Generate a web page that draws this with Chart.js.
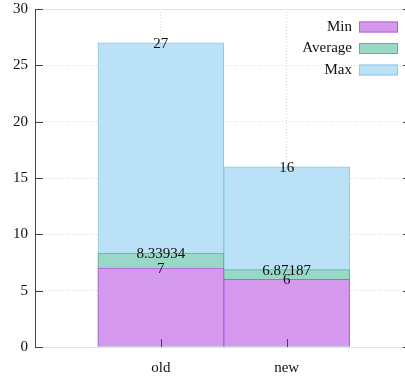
<!DOCTYPE html>
<html lang="en">
<head>
<meta charset="utf-8" />
<title>Min / Average / Max</title>
<script src="https://cdn.jsdelivr.net/npm/chart.js"></script>
<style>
  html, body { margin: 0; padding: 0; background: #fff; }
  #wrap { width: 405px; height: 381px; }
</style>
</head>
<body>
<div id="wrap"><canvas id="barChart"></canvas></div>
<script>
    const categories = ['old', 'new'];
    const minValues = [7, 6];
    const avgValues = [8.33934, 6.87187];
    const maxValues = [27, 16];
    const seriesNames = ['Min', 'Average', 'Max'];
    const yTicks = [0, 5, 10, 15, 20, 25, 30];

    const serif = "'Liberation Serif', 'DejaVu Serif', serif";

    function points(values) {
        return values.map((v, i) => ({ x: i, y: v }));
    }

    // inward tick marks, top border, legend and value labels
    const extras = {
        id: 'extras',
        afterDraw(chart) {
            const c = chart.ctx;
            const area = chart.chartArea;
            const x = chart.scales.x, y = chart.scales.y;
            c.save();
            c.strokeStyle = '#e2e2e2';
            c.lineWidth = 1;
            c.beginPath();
            c.moveTo(area.left, area.top + 0.5);
            c.lineTo(area.right, area.top + 0.5);
            c.stroke();

            c.strokeStyle = '#444';
            c.beginPath();
            yTicks.forEach(t => {
                const py = Math.round(y.getPixelForValue(t)) + 0.5;
                c.moveTo(area.left, py); c.lineTo(area.left + 8, py);
                c.moveTo(area.right, py); c.lineTo(area.right - 2, py);
            });
            categories.forEach((_, i) => {
                const px = Math.round(x.getPixelForValue(i)) + 0.5;
                c.moveTo(px, area.bottom); c.lineTo(px, area.bottom - 8);
            });
            c.stroke();

            // value labels
            c.fillStyle = '#111';
            c.font = '15px ' + serif;
            c.textAlign = 'center';
            c.textBaseline = 'middle';
            chart.data.datasets.forEach((ds, di) => {
                const meta = chart.getDatasetMeta(di);
                meta.data.forEach((bar, i) => {
                    c.fillText(String(ds.data[i].y), bar.x, bar.y + 1);
                });
            });

            // legend
            c.textAlign = 'right';
            chart.data.datasets.forEach((ds, di) => {
                const cy = 27 + di * 21.5;
                c.fillStyle = '#111';
                c.fillText(ds.label, 352, cy);
                c.fillStyle = ds.backgroundColor;
                c.fillRect(359, cy - 5.5, 39, 11);
                c.strokeStyle = ds.borderColor;
                c.strokeRect(359.5, cy - 5, 38, 10);
            });
            c.restore();
        }
    };

    const gridColor = 'rgba(140, 140, 140, 0.35)';

    const ctx = document.getElementById('barChart');
    new Chart(ctx, {
        type: 'bar',
        data: {
            datasets: [{
                label: seriesNames[0],
                data: points(minValues),
                backgroundColor: '#d499ed',
                borderColor: '#b45fdf'
            }, {
                label: seriesNames[1],
                data: points(avgValues),
                backgroundColor: '#99d8c7',
                borderColor: '#4fb896'
            }, {
                label: seriesNames[2],
                data: points(maxValues),
                backgroundColor: '#bbe1f6',
                borderColor: '#86c9f0'
            }]
        },
        options: {
            responsive: true,
            maintainAspectRatio: false,
            animation: false,
            grouped: false,
            barPercentage: 1,
            categoryPercentage: 1,
            borderWidth: 1,
            layout: { padding: { top: 9, right: 0, left: 0, bottom: 0 } },
            plugins: { legend: { display: false }, tooltip: { enabled: false } },
            scales: {
                x: {
                    type: 'linear',
                    offset: false,
                    z: 1,
                    min: -1,
                    max: 1.94,
                    afterBuildTicks: s => { s.ticks = categories.map((_, i) => ({ value: i })); },
                    afterFit: s => { s.height = 34; s.paddingLeft = 0; s.paddingRight = 0; },
                    ticks: {
                        callback: v => categories[v] ?? '',
                        color: '#111',
                        padding: 12,
                        font: { family: serif, size: 15 }
                    },
                    grid: { color: gridColor, tickLength: 0, offset: false },
                    border: { color: '#e2e2e2', dash: [1, 2] }
                },
                y: {
                    min: 0,
                    max: 30,
                    z: 1,
                    afterBuildTicks: s => { s.ticks = yTicks.map(v => ({ value: v })); },
                    afterFit: s => { s.width = 35; s.paddingTop = 0; s.paddingBottom = 0; },
                    ticks: {
                        color: '#111',
                        padding: 7,
                        font: { family: serif, size: 15 }
                    },
                    grid: { color: gridColor, tickLength: 0 },
                    border: { color: '#444', width: 1, dash: [1, 2] }
                }
            }
        },
        plugins: [extras]
    });
</script>
</body>
</html>
